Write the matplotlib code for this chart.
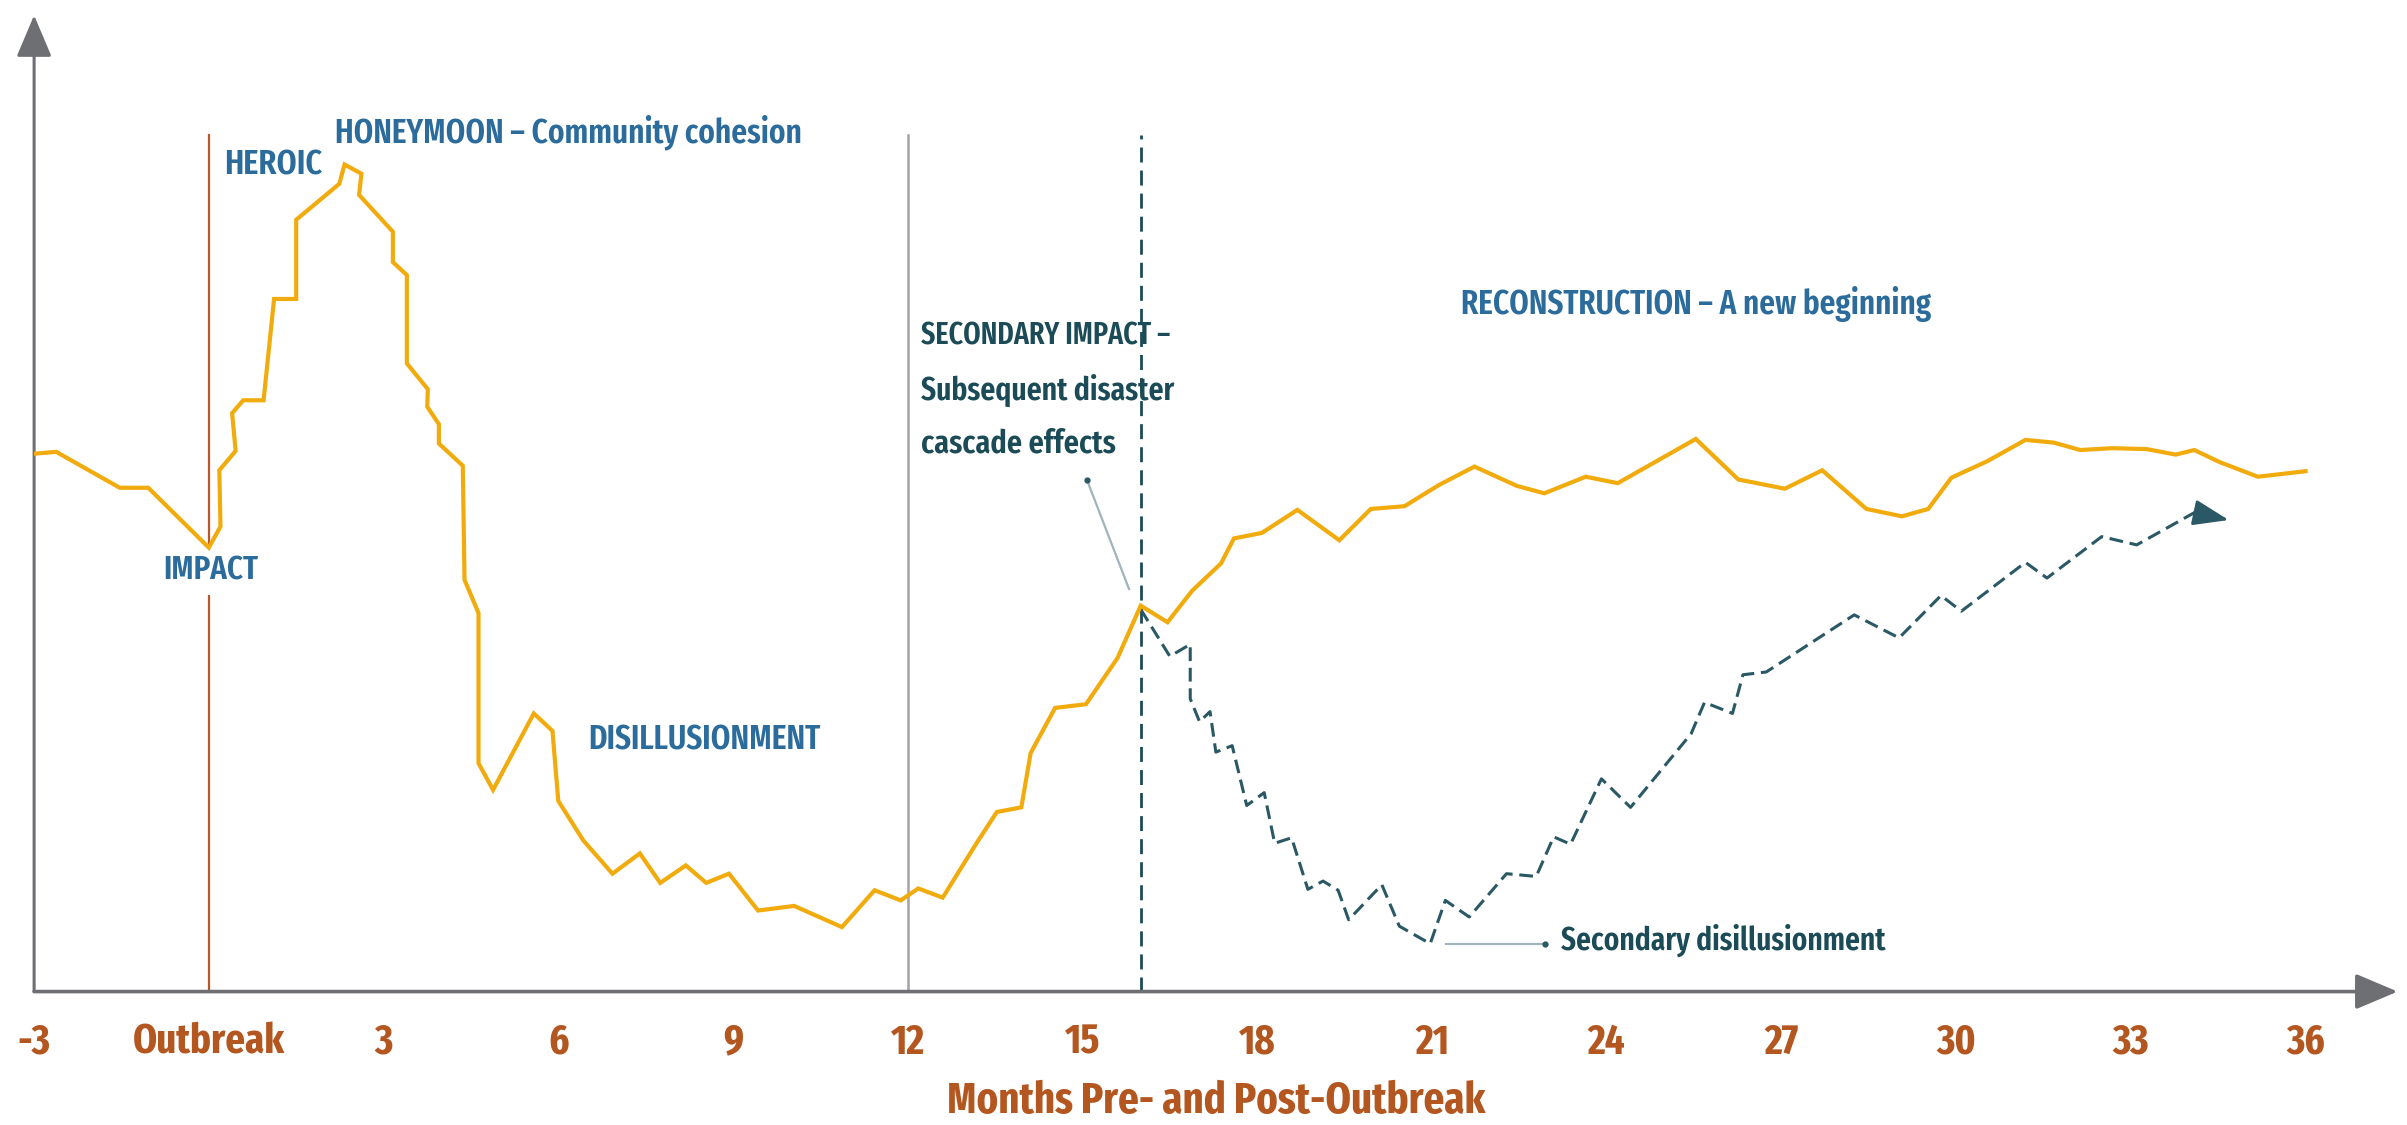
import matplotlib
matplotlib.use("Agg")
import matplotlib.pyplot as plt

FONT = ["Fira Sans Extra Condensed", "DejaVu Sans"]
plt.rcParams['font.family'] = FONT

# ---------------- data ----------------
cohesion_months = [-3.0, -2.62, -1.53, -1.04, 0.0, 0.20, 0.18, 0.46, 0.40, 0.59, 0.94,
                   1.12, 1.50, 1.50, 2.24, 2.33, 2.62, 2.58, 3.16, 3.16, 3.40, 3.40,
                   3.76, 3.75, 3.95, 3.95, 4.36, 4.39, 4.63, 4.63, 4.88, 5.58, 5.90,
                   6.00, 6.43, 6.93, 7.40, 7.75, 8.19, 8.54, 8.93, 9.43, 10.05, 10.87,
                   11.43, 11.88, 12.18, 12.60, 13.18, 13.53, 13.95, 14.11, 14.53, 15.06,
                   15.60, 16.0, 16.46, 16.88, 17.38, 17.60, 18.08, 18.69, 19.41, 19.95,
                   20.53, 21.12, 21.73, 22.46, 22.93, 23.64, 24.19, 25.53, 26.26, 27.06,
                   27.70, 28.46, 29.07, 29.52, 29.92, 30.54, 31.19, 31.68, 32.13, 32.68,
                   33.27, 33.77, 34.09, 34.52, 35.18, 36.0]
cohesion_level = [58.4, 58.6, 54.7, 54.7, 48.2, 50.5, 56.6, 58.7, 62.8, 64.2, 64.2,
                  75.2, 75.2, 83.8, 87.7, 89.8, 88.8, 86.5, 82.5, 79.2, 77.8, 68.2,
                  65.4, 63.5, 61.6, 59.5, 57.1, 44.7, 41.1, 24.8, 21.9, 30.2, 28.3,
                  20.7, 16.4, 12.8, 15.0, 11.8, 13.7, 11.8, 12.8, 8.8, 9.3, 7.0,
                  11.0, 9.9, 11.2, 10.2, 16.1, 19.5, 20.0, 25.9, 30.8, 31.2,
                  36.2, 41.9, 40.1, 43.5, 46.5, 49.2, 49.8, 52.3, 49.0, 52.4,
                  52.7, 55.0, 57.0, 54.9, 54.1, 55.9, 55.2, 60.0, 55.6, 54.6,
                  56.6, 52.4, 51.6, 52.4, 55.8, 57.6, 59.9, 59.6, 58.8, 59.0,
                  58.9, 58.3, 58.8, 57.5, 55.9, 56.5]

secondary_months = [16.0, 16.50, 16.85, 16.85, 17.01, 17.19, 17.29, 17.57, 17.82, 18.12,
                    18.30, 18.59, 18.87, 19.13, 19.39, 19.57, 20.14, 20.44, 20.97, 21.23,
                    21.64, 22.28, 22.79, 23.09, 23.38, 23.91, 24.41, 25.45, 25.68, 26.16,
                    26.34, 26.74, 28.25, 29.02, 29.74, 30.09, 31.19, 31.56, 32.50, 33.10,
                    34.09, 34.68]
secondary_level = [41.5, 36.4, 37.7, 31.8, 29.3, 30.4, 26.0, 26.7, 20.2, 21.6,
                   16.1, 16.7, 11.1, 12.0, 11.0, 7.8, 11.6, 7.1, 5.2, 9.9,
                   8.1, 12.8, 12.5, 16.8, 16.0, 23.1, 20.0, 28.0, 31.4, 30.2,
                   34.4, 34.7, 40.9, 38.4, 43.0, 41.3, 46.6, 44.9, 49.4, 48.5,
                   52.0, 51.2]

tick_months = [-3, 0, 3, 6, 9, 12, 15, 18, 21, 24, 27, 30, 33, 36]
tick_labels = ["-3", "Outbreak", "3", "6", "9", "12", "15", "18", "21", "24",
               "27", "30", "33", "36"]

# ---------------- style ----------------
YELLOW = "#f2ab0c"
BLUE = "#2b6c9c"
TEAL = "#1c4b58"
DASHTEAL = "#2a5865"
ORANGE = "#b4561f"
AXGRAY = "#6e6f72"
RED = "#b9572b"
LGRAY = "#a3a3a3"
PTRGRAY = "#9fb4bb"

fig = plt.figure(figsize=(24.07, 11.25), dpi=100)
ax = fig.add_axes([0.01417, 0.1186, 0.9961 - 0.01417, 0.9864 - 0.1186])
ax.set_xlim(-3, 37.58)
ax.set_ylim(0, 106)
for s in ax.spines.values():
    s.set_visible(False)
ax.set_yticks([])
ax.set_xticks(tick_months, tick_labels)
ax.tick_params(axis='x', length=0, pad=22, labelsize=32, labelcolor=ORANGE)
for lab in ax.get_xticklabels():
    lab.set_fontweight('bold')
xl = ax.set_xlabel("Months Pre- and Post-Outbreak", fontsize=31, fontweight='bold',
                   color=ORANGE, labelpad=13)

# axis arrows
ax.annotate('', xy=(37.58, 0), xytext=(-3, 0), annotation_clip=False,
            arrowprops=dict(arrowstyle='-|>,head_length=2.6,head_width=1.1',
                            color=AXGRAY, lw=2.6, shrinkA=0, shrinkB=0))
ax.annotate('', xy=(-3, 106), xytext=(-3, 0), annotation_clip=False,
            arrowprops=dict(arrowstyle='-|>,head_length=2.6,head_width=1.1',
                            color=AXGRAY, lw=2.2, shrinkA=0, shrinkB=0))

# phase lines
ax.plot([0, 0], [0, 93], color=RED, lw=1.6, zorder=2)
ax.plot([12, 12], [0, 93], color=LGRAY, lw=1.8, zorder=2)
ax.plot([16, 16], [0, 93], color=TEAL, lw=2.0, dashes=(5.4, 2.9), zorder=2)

# curves
ax.plot(secondary_months[:-1], secondary_level[:-1], color=DASHTEAL, lw=2.2,
        dashes=(4.5, 2.2), zorder=3)
ax.annotate('', xy=(secondary_months[-1], secondary_level[-1]),
            xytext=(secondary_months[-2], secondary_level[-2]),
            arrowprops=dict(arrowstyle='-|>,head_length=2.2,head_width=0.8',
                            color=DASHTEAL, lw=2, shrinkA=0, shrinkB=0), zorder=3)
ax.plot(cohesion_months, cohesion_level, color=YELLOW, lw=3.0, zorder=4,
        solid_joinstyle='miter')

# labels (target widths in output pixels used to size the condensed font)
kw = dict(fontweight=600, va='center', ha='left', fontsize=22)
texts = []
texts.append((ax.text(0.26, 89.7, "HEROIC", color=BLUE, **kw), 98))
texts.append((ax.text(2.16, 93.3, "HONEYMOON \u2013 Community cohesion", color=BLUE, **kw), 467))
texts.append((ax.text(0.03, 45.7, "IMPACT", color=BLUE, fontweight=600, fontsize=22,
                      va='center', ha='center', zorder=3,
                      bbox=dict(boxstyle='square,pad=0.25', fc='white', ec='none')), 95))
texts.append((ax.text(6.51, 27.3, "DISILLUSIONMENT", color=BLUE, **kw), 233))
texts.append((ax.text(21.5, 74.7, "RECONSTRUCTION \u2013 A new beginning", color=BLUE, **kw), 470))
texts.append((ax.text(12.23, 71.2, "SECONDARY IMPACT \u2013", color=TEAL, **kw), 249))
texts.append((ax.text(12.23, 65.3, "Subsequent disaster", color=TEAL, **kw), 253))
texts.append((ax.text(12.23, 59.5, "cascade effects", color=TEAL, **kw), 194))
texts.append((ax.text(23.22, 5.6, "Secondary disillusionment", color=TEAL, **kw), 324))

# pointer lines
ax.plot([15.08, 15.80], [55.5, 43.7], color=PTRGRAY, lw=1.6, zorder=2)
ax.plot([15.08], [55.5], 'o', color=DASHTEAL, ms=3.5, zorder=3)
ax.plot([21.24, 22.94], [5.2, 5.2], color=PTRGRAY, lw=1.6, zorder=2)
ax.plot([22.94], [5.2], 'o', color=DASHTEAL, ms=3.5, zorder=3)

# size fonts so the rendered widths match the reference
fig.canvas.draw()
r = fig.canvas.get_renderer()
for t, target in texts:
    if t.get_bbox_patch() is not None:
        t.set_bbox(None)
        bb = t.get_window_extent(r)
        t.set_bbox(dict(boxstyle='square,pad=0.25', fc='white', ec='none'))
    else:
        bb = t.get_window_extent(r)
    t.set_fontsize(t.get_fontsize() * target / bb.width)

ob = [l for l in ax.get_xticklabels() if l.get_text() == "Outbreak"][0]
tick_size = 32 * 152 / ob.get_window_extent(r).width
ax.tick_params(axis='x', labelsize=tick_size)
xl.set_fontsize(31 * 539 / xl.get_window_extent(r).width)

fig.savefig("out.png", dpi=100)
